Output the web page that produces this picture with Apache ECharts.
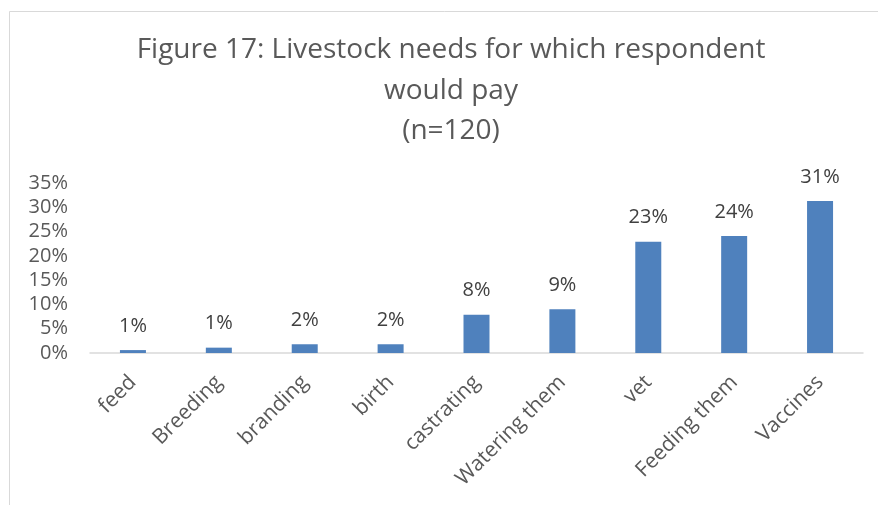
<!DOCTYPE html>
<html>
<head>
<meta charset="utf-8">
<script src="https://cdn.jsdelivr.net/npm/echarts@6/dist/echarts.min.js"></script>
<style>
html,body{margin:0;padding:0;background:#fff;}
#c{width:878px;height:505px;}
</style>
</head>
<body>
<div id="c"></div>
<script>
const categories = ["feed","Breeding","branding","birth","castrating","Watering them","vet","Feeding them","Vaccines"];
const values = [0.6, 1.1, 1.8, 1.8, 7.9, 9.0, 22.9, 24.1, 31.3];
const yTicks = [0, 5, 10, 15, 20, 25, 30, 35];
const titleLines = ["Figure 17: Livestock needs for which respondent", "would pay", "(n=120)"];

const FONT = '"Open Sans", "Noto Sans", sans-serif';
const chart = echarts.init(document.getElementById('c'), null, {renderer:'canvas'});
const titleTops = [34, 75, 115];
chart.setOption({
  animation: false,
  backgroundColor: '#fff',
  textStyle: {fontFamily: FONT},
  graphic: [{
    type: 'rect', silent: true, z: -1,
    shape: {x: 9.5, y: 11.5, width: 900, height: 600},
    style: {fill: 'none', stroke: '#d9d9d9', lineWidth: 1}
  }],
  title: titleLines.map((t, i) => ({
    text: t, left: 451, textAlign: 'center', top: titleTops[i], padding: 0,
    textStyle: {fontFamily: FONT, fontSize: 28, fontWeight: 'normal', color: '#595959', lineHeight: 32}
  })),
  grid: {left: 90, right: 15, top: 183, bottom: 152, containLabel: false},
  xAxis: {
    type: 'category', data: categories,
    axisLine: {lineStyle: {color: '#d9d9d9', width: 1.5}},
    axisTick: {show: false},
    axisLabel: {rotate: 45, color: '#595959', fontSize: 21, fontFamily: FONT, margin: 26, interval: 0}
  },
  yAxis: {
    type: 'value', min: yTicks[0], max: yTicks[yTicks.length-1], interval: 5,
    splitLine: {show: false},
    axisLine: {show: false}, axisTick: {show: false},
    axisLabel: {formatter: v => v + '%', color: '#595959', fontSize: 20, fontFamily: FONT, margin: 22}
  },
  series: [{
    type: 'bar', data: values, barWidth: 26,
    itemStyle: {color: '#4f81bd'},
    label: {show: true, position: 'top', distance: 14, formatter: p => Math.round(p.value) + '%',
      color: '#404040', fontSize: 20, fontFamily: FONT}
  }]
});
</script>
</body>
</html>
